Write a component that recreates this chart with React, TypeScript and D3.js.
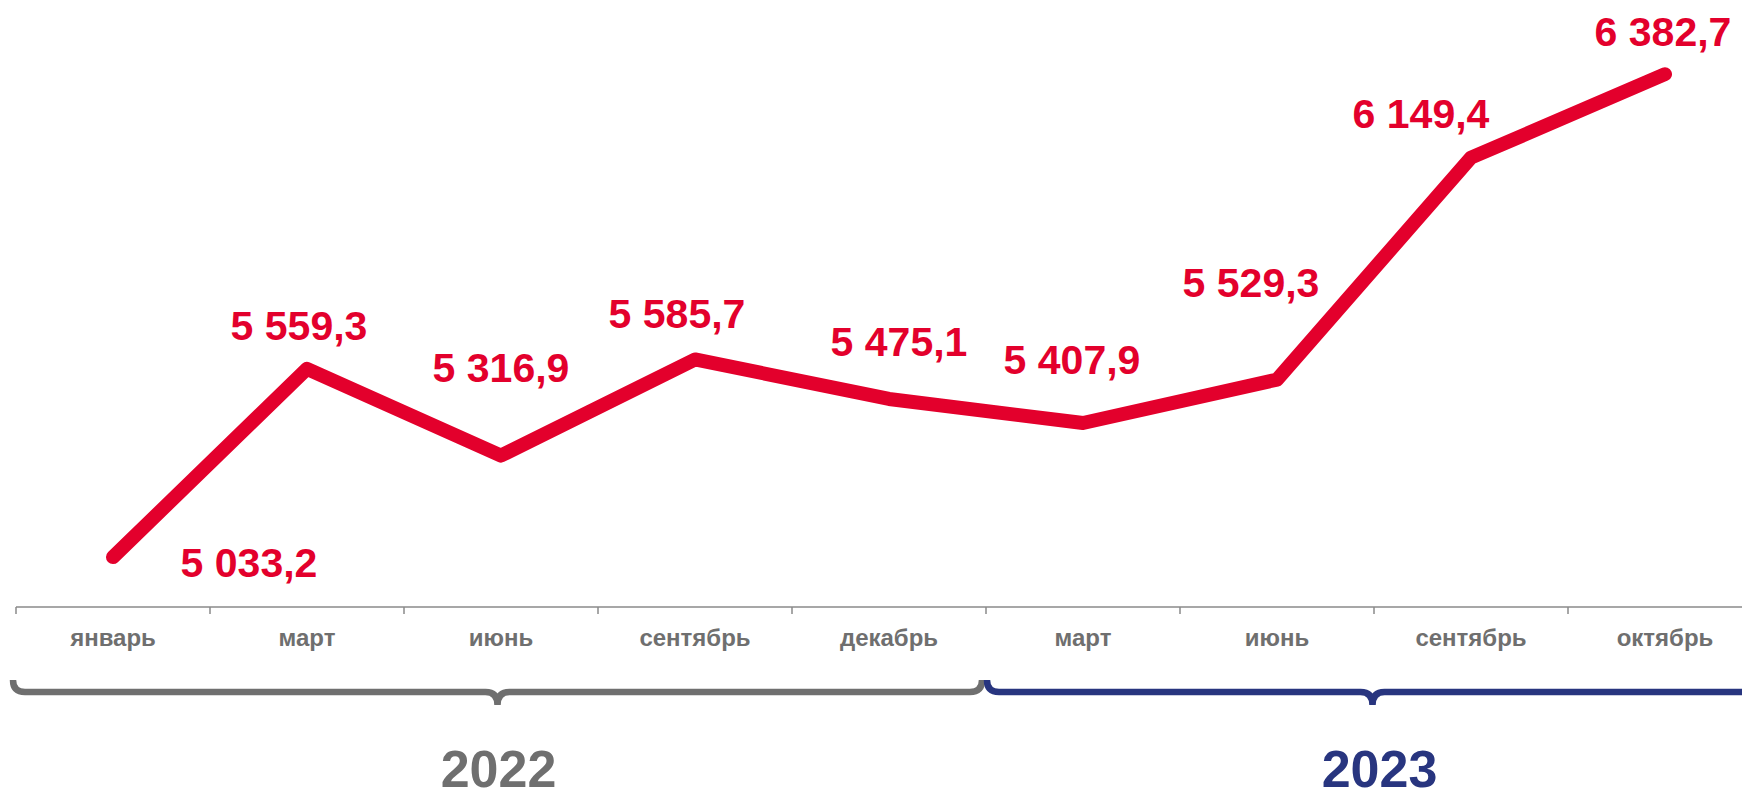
import { useEffect, useRef } from 'react';
import * as d3 from 'd3';

// months along the axis (two years)
const months = ['январь', 'март', 'июнь', 'сентябрь', 'декабрь', 'март', 'июнь', 'сентябрь', 'октябрь'];
const values = [5033.2, 5559.3, 5316.9, 5585.7, 5475.1, 5407.9, 5529.3, 6149.4, 6382.7];
const years = ['2022', '2023'];
const yearSpans = [[0, 4], [5, 8]];

const RED = '#e3002c';
const GREY = '#6f6f6f';
const BLUE = '#28357f';
const FONT = '"Liberation Sans", Arial, sans-serif';

const App = () => {
  const svgRef = useRef<SVGSVGElement | null>(null);

  useEffect(() => {
    const width = 1742;
    const height = 791;
    const svg = d3.select(svgRef.current);
    svg.selectAll('*').remove();
    svg.attr('width', width).attr('height', height);

    const idx = months.map((_, i) => i);
    const x = d3.scaleBand<number>().domain(idx).range([16, 1762]);
    const y = d3.scaleLinear().domain([5000, 6400]).range([569, 68]);
    const cx = (i: number) => (x(i) as number) + x.bandwidth() / 2;

    const axisY = 607;

    // axis line + ticks
    svg.append('line')
      .attr('x1', x.range()[0]).attr('x2', x.range()[1])
      .attr('y1', axisY).attr('y2', axisY)
      .attr('stroke', '#8a8a8a').attr('stroke-width', 1.5);

    svg.selectAll('.tick')
      .data(idx)
      .enter()
      .append('line')
      .attr('x1', d => x(d) as number).attr('x2', d => x(d) as number)
      .attr('y1', axisY).attr('y2', axisY + 7)
      .attr('stroke', '#8a8a8a').attr('stroke-width', 1.5);

    svg.selectAll('.month')
      .data(months)
      .enter()
      .append('text')
      .attr('x', (_, i) => cx(i))
      .attr('y', 646)
      .attr('text-anchor', 'middle')
      .attr('font-family', FONT)
      .attr('font-weight', 'bold')
      .attr('font-size', 24)
      .attr('fill', GREY)
      .text(d => d);

    // braces under the months
    const braceY = 692;
    const r = 12;
    yearSpans.forEach(([a, b], k) => {
      const x0 = (x(a) as number) - (k === 0 ? 3 : -1);
      const x1 = (x(b) as number) + x.bandwidth() - 4;
      const mid = (x0 + x1) / 2;
      const p = d3.path();
      p.moveTo(x0, braceY - r);
      p.quadraticCurveTo(x0, braceY, x0 + r, braceY);
      p.lineTo(mid - r, braceY);
      p.quadraticCurveTo(mid, braceY, mid, braceY + 13);
      p.quadraticCurveTo(mid, braceY, mid + r, braceY);
      p.lineTo(x1 - r, braceY);
      p.quadraticCurveTo(x1, braceY, x1, braceY - r);
      const col = k === 0 ? GREY : BLUE;
      svg.append('path')
        .attr('d', p.toString())
        .attr('fill', 'none')
        .attr('stroke', col)
        .attr('stroke-width', 6.5);

      svg.append('text')
        .attr('x', mid + (k === 0 ? 1 : 7))
        .attr('y', 787)
        .attr('text-anchor', 'middle')
        .attr('font-family', FONT)
        .attr('font-weight', 'bold')
        .attr('font-size', 52)
        .attr('fill', col)
        .text(years[k]);
    });

    // the line itself
    const line = d3.line<number>()
      .x((_, i) => cx(i))
      .y(d => y(d));

    svg.append('path')
      .datum(values)
      .attr('d', line)
      .attr('fill', 'none')
      .attr('stroke', RED)
      .attr('stroke-width', 14)
      .attr('stroke-linejoin', 'round')
      .attr('stroke-linecap', 'round');

    // value labels, nudged around each point
    const labelOffsets = [
      [136, 20], [-8, -29], [0, -74], [-18, -31], [10, -43],
      [-11, -49], [-26, -83], [-50, -30], [-2, -28]
    ];
    const fmt = (v: number) => d3.format(',.1f')(v).replace(',', ' ').replace('.', ',');

    svg.selectAll('.val')
      .data(values)
      .enter()
      .append('text')
      .attr('x', (_, i) => cx(i) + labelOffsets[i][0])
      .attr('y', (d, i) => y(d) + labelOffsets[i][1])
      .attr('text-anchor', 'middle')
      .attr('font-family', FONT)
      .attr('font-weight', 'bold')
      .attr('font-size', 41)
      .attr('fill', RED)
      .text(d => fmt(d));
  }, []);

  return (
    <svg
      ref={svgRef}
      style={{ position: 'absolute', left: 0, top: 0, display: 'block', background: '#fff' }}
    />
  );
};

export default App;
